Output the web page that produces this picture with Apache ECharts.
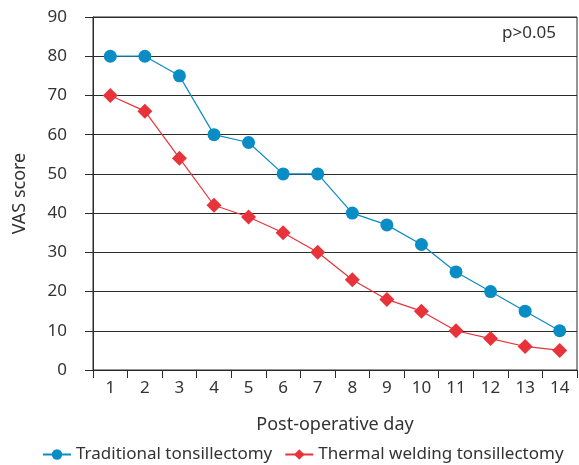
<!DOCTYPE html>
<html>
<head>
<meta charset="utf-8">
<script src="https://cdn.jsdelivr.net/npm/echarts@6/dist/echarts.min.js"></script>
<style>
  html, body { margin: 0; padding: 0; background: #fff; }
  #chart { width: 579px; height: 465px; }
</style>
</head>
<body>
<div id="chart"></div>
<script>
// 数据
var days = ["1", "2", "3", "4", "5", "6", "7", "8", "9", "10", "11", "12", "13", "14"];
var traditional = [80, 80, 75, 60, 58, 50, 50, 40, 37, 32, 25, 20, 15, 10];
var thermal = [70, 66, 54, 42, 39, 35, 30, 23, 18, 15, 10, 8, 6, 5];
var yTicks = [0, 10, 20, 30, 40, 50, 60, 70, 80, 90];

var font = "Noto Sans";
var textColor = "#333";
var lineColor = "#2b2b2b";

var myChart = echarts.init(document.getElementById("chart"));
var option = {
  animation: false,
  textStyle: { fontFamily: font },
  graphic: [
    {
      type: "text",
      right: 23,
      top: 25,
      style: { text: "p>0.05", font: "17px Noto Sans", fill: textColor }
    }
  ],
  grid: {
    left: 93,
    right: 2,
    top: 17,
    bottom: 95,
    show: true,
    borderColor: lineColor,
    borderWidth: 1
  },
  legend: {
    orient: "horizontal",
    bottom: 0,
    left: 40,
    right: 0,
    padding: 2,
    itemWidth: 28,
    itemHeight: 13,
    itemGap: 12,
    textStyle: { fontFamily: font, fontSize: 17, color: textColor },
    data: ["Traditional tonsillectomy", "Thermal welding tonsillectomy"]
  },
  xAxis: {
    type: "category",
    data: days,
    boundaryGap: true,
    name: "Post-operative day",
    nameLocation: "middle",
    nameGap: 46,
    nameTextStyle: { fontFamily: font, fontSize: 18, color: textColor },
    axisLine: { lineStyle: { color: lineColor } },
    axisTick: { show: true, length: 8, lineStyle: { color: lineColor } },
    axisLabel: { fontFamily: font, fontSize: 17, color: textColor, margin: 10 }
  },
  yAxis: {
    type: "value",
    min: yTicks[0],
    max: yTicks[yTicks.length - 1],
    interval: 10,
    name: "VAS score",
    nameLocation: "middle",
    nameGap: 64,
    nameTextStyle: { fontFamily: font, fontSize: 18, color: textColor },
    axisLine: { show: true, lineStyle: { color: lineColor } },
    axisTick: { show: true, length: 8, lineStyle: { color: lineColor } },
    axisLabel: { fontFamily: font, fontSize: 17, color: textColor, margin: 26 },
    splitLine: { show: true, lineStyle: { color: lineColor, width: 1 } }
  },
  series: [
    {
      name: "Traditional tonsillectomy",
      type: "line",
      data: traditional,
      symbol: "circle",
      symbolSize: 13,
      color: "#0a8cc4",
      lineStyle: { width: 1.2, color: "#0a8cc4" },
      itemStyle: { color: "#0a8cc4" }
    },
    {
      name: "Thermal welding tonsillectomy",
      type: "line",
      data: thermal,
      symbol: "diamond",
      symbolSize: 15,
      color: "#e8333a",
      lineStyle: { width: 1.2, color: "#e8333a" },
      itemStyle: { color: "#e8333a" }
    }
  ]
};
myChart.setOption(option);
</script>
</body>
</html>
